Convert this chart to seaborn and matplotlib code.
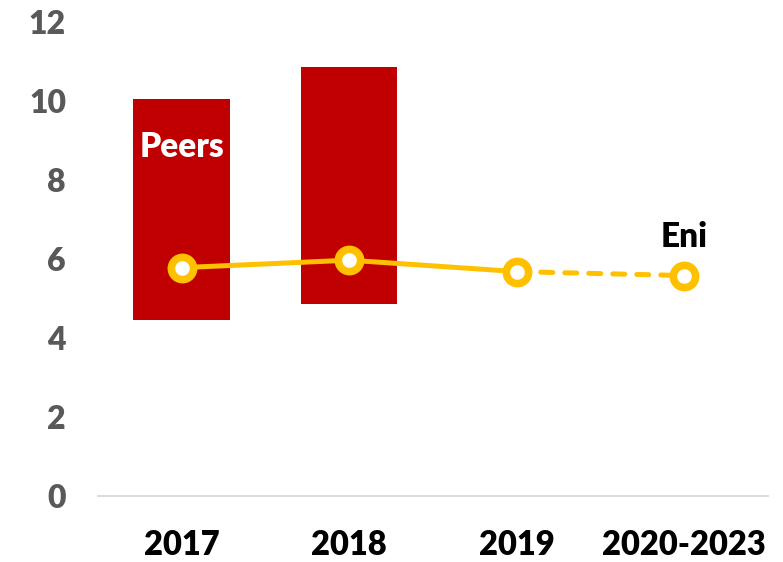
import matplotlib
matplotlib.use("Agg")
import seaborn as sns
import matplotlib.pyplot as plt
import numpy as np

# data
years = ["2017", "2018", "2019", "2020-2023"]
peers_years = ["2017", "2018"]
peers_low = [4.46, 4.86]
peers_high = [10.05, 10.85]
eni = [5.78, 5.97, 5.68, 5.58]

red = "#C00000"
gold = "#FFC000"

sns.set_style("white")
plt.rcParams["font.family"] = ["Lato", "DejaVu Sans"]
plt.rcParams["font.weight"] = "heavy"

fig = plt.figure(figsize=(7.83, 5.62), dpi=100)
ax = fig.add_axes([0.125, 0.1174, 0.856, 0.8436])

# floating bars for the peers range
heights = [h - l for h, l in zip(peers_high, peers_low)]
sns.barplot(x=peers_years, y=heights, order=years, bottom=peers_low,
            color=red, saturation=1, width=0.575, linewidth=0, ax=ax)

# Eni line: solid for actuals, dashed for the plan period
pos = np.arange(len(years))
sns.lineplot(x=pos[:3], y=eni[:3], color=gold, linewidth=3.6, ax=ax,
             solid_capstyle="round")
sns.lineplot(x=pos[2:], y=eni[2:], color=gold, linewidth=3.6, ax=ax,
             linestyle=(0, (2.4, 2.4)), dash_capstyle="round")
sns.scatterplot(x=pos, y=eni, s=256, color="white", edgecolor=gold,
                linewidth=5.5, zorder=5, ax=ax)

ax.text(0, 8.84, "Peers", color="white", fontsize=24, fontweight="heavy",
        ha="center", va="center")
ax.text(3, 6.56, "Eni", color="black", fontsize=24, fontweight="heavy",
        ha="center", va="center")

ax.set_xlim(-0.5, 3.5)
ax.set_ylim(0, 12)
ax.set_yticks(range(0, 13, 2))
ax.set_xticks(pos)
ax.set_xticklabels(years)
ax.tick_params(axis="y", length=0, pad=23, labelsize=23, labelcolor="#595959")
ax.tick_params(axis="x", length=0, pad=24, labelsize=23.5, labelcolor="black")
for lab in ax.get_xticklabels() + ax.get_yticklabels():
    lab.set_fontweight("heavy")

sns.despine(ax=ax, left=True)
ax.spines["bottom"].set_color("#D9D9D9")
ax.spines["bottom"].set_linewidth(1.3)
ax.set_xlabel("")
ax.set_ylabel("")

fig.savefig("out.png", dpi=100)
